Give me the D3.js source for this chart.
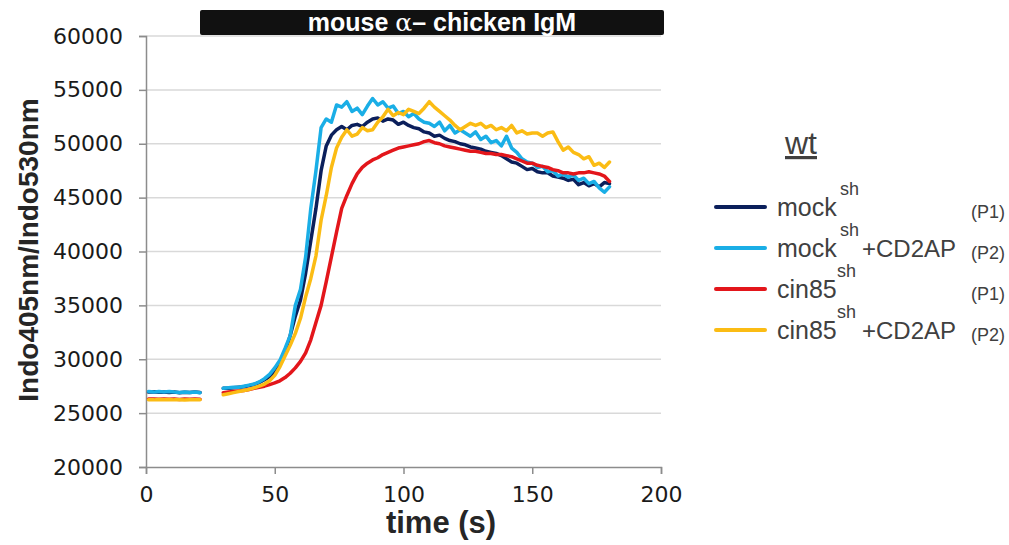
<!DOCTYPE html>
<html>
<head>
<meta charset="utf-8">
<script src="https://cdn.jsdelivr.net/npm/d3@7"></script>
<style>
  body { margin: 0; background: #fff; }
  svg { display: block; }
</style>
</head>
<body>
<svg id="chart" width="1009" height="545"></svg>
<script>
// time points (s); null values at 26 s mark the gap in acquisition
var times = [1, 3, 5, 7, 9, 11, 13, 15, 17, 19, 21, 26,
  30, 32, 34, 36, 38, 40, 42, 44, 46, 48, 50, 52, 54, 56, 58, 60, 62, 64, 66, 68, 70, 72, 74, 76, 78,
  80, 82, 84, 86, 88, 90, 92, 94, 96, 98, 100, 102, 104, 106, 108, 110, 112, 114, 116, 118, 120, 122,
  124, 126, 128, 130, 132, 134, 136, 138, 140, 142, 144, 146, 148, 150, 152, 154, 156, 158, 160, 162,
  164, 166, 168, 170, 172, 174, 176, 178, 180];

var mockSh = [26950, 26980, 26930, 26960, 26920, 26950, 26900, 26940, 26910, 26950, 26920, null,
  27300, 27300, 27350, 27400, 27450, 27550, 27650, 27850, 28100, 28400, 28900, 29600, 30600, 32200, 34000, 35500, 38000, 41000, 44000, 47500, 49800, 50800, 51300, 51600, 51300,
  51700, 51800, 51600, 52000, 52300, 52400, 52100, 52300, 52200, 51800, 52000, 51700, 51500, 51400, 51100, 51000, 50700, 50800, 50500, 50300, 50200, 50000,
  49900, 49700, 49600, 49500, 49300, 49200, 49100, 48900, 48600, 48300, 48200, 47900, 47600, 47700, 47400, 47300, 47300, 47000, 46900, 46800,
  46600, 46700, 46200, 46400, 46100, 46300, 46000, 46400, 46300];

var mockShCD2AP = [27000, 26950, 27010, 26960, 27000, 26950, 26920, 26960, 26910, 26950, 26900, null,
  27300, 27350, 27400, 27400, 27500, 27600, 27700, 27900, 28200, 28600, 29200, 29900, 31000, 32200, 35000, 36500, 39500, 44000, 47500, 51500, 52300, 52000, 53600, 53400, 53900,
  53000, 53300, 52700, 53500, 54200, 53600, 53900, 53300, 53500, 52800, 53000, 52500, 52800, 52300, 52000, 51900, 51600, 52000, 51200, 51700, 51000, 51300,
  51000, 50700, 51100, 50400, 50700, 50100, 50300, 49800, 50700, 49600, 49200, 48600, 48300, 48200, 47800, 47900, 47400, 47500, 47000, 47200,
  46900, 47100, 46600, 46800, 46300, 46500, 45900, 45500, 46000];

var cin85Sh = [26300, 26320, 26280, 26310, 26290, 26300, 26270, 26300, 26280, 26300, 26290, null,
  26900, 26950, 27000, 27050, 27100, 27200, 27300, 27400, 27500, 27650, 27800, 28000, 28300, 28700, 29200, 29800, 30600, 31800, 33400, 35000, 37200, 39500, 41800, 44000, 45200,
  46300, 47200, 47800, 48200, 48500, 48700, 49000, 49200, 49400, 49600, 49700, 49800, 49900, 50000, 50200, 50300, 50100, 50000, 49800, 49700, 49600, 49500,
  49400, 49300, 49300, 49200, 49100, 49100, 49000, 49000, 48900, 48800, 48600, 48400, 48200, 48200, 48000, 47900, 47800, 47600, 47500, 47300,
  47300, 47200, 47300, 47300, 47400, 47300, 47200, 47000, 46500];

var cin85ShCD2AP = [26250, 26230, 26270, 26240, 26260, 26230, 26250, 26220, 26250, 26230, 26240, null,
  26700, 26800, 26900, 27000, 27100, 27200, 27350, 27500, 27700, 28000, 28500, 29300, 30300, 31300, 32400, 33800, 35800, 37500, 39600, 42900, 45200, 47800, 49600, 50600, 51300,
  50700, 50900, 51500, 51200, 51300, 52000, 52500, 53200, 52600, 52900, 52700, 53200, 53000, 52800, 53300, 53900, 53400, 53000, 52600, 52200, 51700, 51300,
  51600, 51900, 51700, 51900, 51500, 51700, 51300, 51500, 51200, 51700, 51000, 51200, 50900, 51000, 51000, 50700, 51000, 51100, 50200, 49400,
  49700, 49200, 49000, 48600, 48800, 48000, 48200, 47800, 48300];

var seriesNames = ["mock", "mock", "cin85", "cin85"];
var seriesExtra = ["", "+CD2AP", "", "+CD2AP"];
var seriesTags = ["(P1)", "(P2)", "(P1)", "(P2)"];
var seriesColors = ["#0b1f5b", "#1aaee6", "#e3161b", "#fbbc14"];
var seriesValues = [mockSh, mockShCD2AP, cin85Sh, cin85ShCD2AP];

var yTicks = [20000, 25000, 30000, 35000, 40000, 45000, 50000, 55000, 60000];
var xTicks = [0, 50, 100, 150, 200];

var svg = d3.select("#chart");
var x = d3.scaleLinear().domain([0, 200]).range([146, 661]);
var y = d3.scaleLinear().domain([20000, 60000]).range([467, 36]);

// gridlines
svg.append("g").selectAll("line")
  .data(yTicks.slice(1))
  .enter().append("line")
  .attr("x1", x(0)).attr("x2", x(200))
  .attr("y1", function (d) { return y(d); })
  .attr("y2", function (d) { return y(d); })
  .style("stroke", "#d9d9d9")
  .style("stroke-width", 1.5);

// axes
var yAxis = svg.append("g")
  .attr("transform", "translate(" + x(0) + ",0)")
  .call(d3.axisLeft(y).tickValues(yTicks).tickSize(7).tickPadding(16).tickFormat(d3.format("d")));
var xAxis = svg.append("g")
  .attr("transform", "translate(0," + y(20000) + ")")
  .call(d3.axisBottom(x).tickValues(xTicks).tickSize(7).tickPadding(12));
[yAxis, xAxis].forEach(function (g) {
  g.select(".domain").style("stroke", "#8c8c8c").style("stroke-width", 1.5);
  g.selectAll(".tick line").style("stroke", "#8c8c8c").style("stroke-width", 1.5);
  g.selectAll("text").style("font-family", "'DejaVu Sans', sans-serif")
    .style("font-size", "22px").style("fill", "#1a1a1a");
});

// lines
var line = d3.line()
  .defined(function (d) { return d.v !== null; })
  .x(function (d) { return x(d.t); })
  .y(function (d) { return y(d.v); });

svg.append("g").selectAll("path")
  .data(seriesValues)
  .enter().append("path")
  .attr("d", function (vals) {
    return line(times.map(function (t, i) { return { t: t, v: vals[i] }; }));
  })
  .style("fill", "none")
  .style("stroke", function (d, i) { return seriesColors[i]; })
  .style("stroke-width", 3.5)
  .style("stroke-linejoin", "round")
  .style("stroke-linecap", "round");

// title bar
svg.append("rect")
  .attr("x", 200).attr("y", 10).attr("width", 464).attr("height", 25)
  .attr("rx", 2)
  .style("fill", "#111");
var title = svg.append("text")
  .attr("x", 442).attr("y", 31)
  .attr("text-anchor", "middle")
  .style("font-family", "'Liberation Sans', Arial, sans-serif")
  .style("font-size", "25px").style("font-weight", "bold")
  .style("fill", "#fff");
title.append("tspan").text("mouse ");
title.append("tspan").style("font-family", "'DejaVu Serif', serif").style("font-weight", "normal").text("α");
title.append("tspan").text("– chicken IgM");

// axis titles
svg.append("text")
  .attr("transform", "translate(38,250) rotate(-90)")
  .attr("text-anchor", "middle")
  .style("font-family", "'Liberation Sans', Arial, sans-serif")
  .style("font-size", "28px").style("font-weight", "bold")
  .style("fill", "#262626")
  .text("Indo405nm/Indo530nm");
svg.append("text")
  .attr("x", 441).attr("y", 533)
  .attr("text-anchor", "middle")
  .style("font-family", "'Liberation Sans', Arial, sans-serif")
  .style("font-size", "31px").style("font-weight", "bold")
  .style("fill", "#262626")
  .text("time (s)");

// legend
var legend = svg.append("g")
  .style("font-family", "'Liberation Sans', Arial, sans-serif")
  .style("fill", "#404040");
legend.append("text")
  .attr("x", 785).attr("y", 154)
  .style("font-size", "32px")
  .style("text-decoration", "underline")
  .text("wt");

var rows = legend.selectAll("g.row")
  .data(seriesNames)
  .enter().append("g")
  .attr("class", "row")
  .attr("transform", function (d, i) { return "translate(0," + (207 + i * 41) + ")"; });
rows.append("line")
  .attr("x1", 716).attr("x2", 765)
  .style("stroke", function (d, i) { return seriesColors[i]; })
  .style("stroke-width", 4)
  .style("stroke-linecap", "round");
rows.append("text")
  .attr("x", 777).attr("y", 9)
  .style("font-size", "25px")
  .text(function (d) { return d; });
rows.append("text")
  .attr("x", function (d) { return d === "mock" ? 840 : 837; }).attr("y", -12)
  .style("font-size", "18px")
  .text("sh");
rows.append("text")
  .attr("x", 862).attr("y", 9)
  .style("font-size", "24px")
  .text(function (d, i) { return seriesExtra[i]; });
rows.append("text")
  .attr("x", 1005).attr("y", 11)
  .attr("text-anchor", "end")
  .style("font-size", "18px")
  .text(function (d, i) { return seriesTags[i]; });
</script>
</body>
</html>
